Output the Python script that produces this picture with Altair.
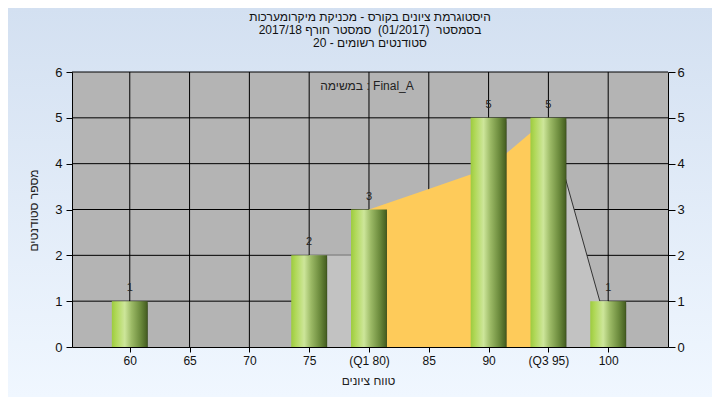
import altair as alt
import pandas as pd

# ---- data ----
categories = [60, 65, 70, 75, 80, 85, 90, 95, 100]
counts = [1, 0, 0, 2, 3, 0, 5, 5, 1]
tick_labels = ["60", "65", "70", "75", "(Q1 80)", "85", "90", "(Q3 95)", "100"]

iqr_x = [80, 85, 90, 95]
iqr_y = [3, 3.45, 3.9, 5]
low_x = [75, 80]
low_y = [2, 2]
high_x = [95, 99.3, 100]
high_y = [5, 1, 1]

y_ticks = [0, 1, 2, 3, 4, 5, 6]
title_lines = [
    "היסטוגרמת ציונים בקורס - מכניקת מיקרומערכות",
    "בסמסטר \u00a0(01/2017) \u00a0סמסטר חורף 2017/18",
    "סטודנטים רשומים - 20",
]
y_title = "מספר סטודנטים"
x_title = "טווח ציונים"
note = "במשימה : Final_A"

FONT = "Liberation Sans"
W, H = 596, 275
x_min, x_max = 55.17, 105.0

xs = alt.Scale(domain=[x_min, x_max], nice=False, zero=False, padding=0)
ys = alt.Scale(domain=[0, 6], nice=False, zero=True, padding=0)

label_expr = ""
for c, l in zip(categories, tick_labels):
    if l != str(c):
        label_expr += f"datum.value == {c} ? '{l}' : "
label_expr += "datum.label"

bars_df = pd.DataFrame({"score": categories, "count": counts})
bars_df = bars_df[bars_df["count"] > 0]
one = pd.DataFrame({"a": [0]})

bg_grad = alt.LinearGradient(
    gradient="linear",
    stops=[alt.GradientStop(offset=0, color="#d3e0f1"),
           alt.GradientStop(offset=1, color="#f0f7ff")],
    x1=0, x2=0, y1=0, y2=1)

bar_grad = alt.LinearGradient(
    gradient="linear",
    stops=[alt.GradientStop(offset=0, color="#9dcb3f"),
           alt.GradientStop(offset=0.12, color="#b0d858"),
           alt.GradientStop(offset=0.36, color="#cde69a"),
           alt.GradientStop(offset=0.55, color="#9cba66"),
           alt.GradientStop(offset=0.8, color="#6b8a3c"),
           alt.GradientStop(offset=0.96, color="#4a6424"),
           alt.GradientStop(offset=1, color="#3a4e1c")],
    x1=0, x2=1, y1=0, y2=0)

bg = alt.Chart(one).mark_rect(fill=bg_grad).encode(
    x=alt.value(-64), x2=alt.value(W + 44), y=alt.value(-64), y2=alt.value(H + 50))
plot_bg = alt.Chart(one).mark_rect(fill="#b4b4b4").encode(
    x=alt.value(0), x2=alt.value(W), y=alt.value(0), y2=alt.value(H))

vgrid = alt.Chart(pd.DataFrame({"score": categories})).mark_rule(color="black", strokeWidth=1).encode(
    x=alt.X("score:Q", scale=xs, axis=None), y=alt.value(0), y2=alt.value(H))
hgrid = alt.Chart(pd.DataFrame({"v": y_ticks[1:]})).mark_rule(color="black", strokeWidth=1).encode(
    y=alt.Y("v:Q", scale=ys, axis=None), x=alt.value(0), x2=alt.value(W))

def area(xv, yv, color):
    return alt.Chart(pd.DataFrame({"x": xv, "y": yv})).mark_area(color=color, opacity=1).encode(
        x=alt.X("x:Q", scale=xs, axis=None), y=alt.Y("y:Q", scale=ys, axis=None))

low_area = area(low_x, low_y, "#c2c2c2")
high_area = area(high_x, high_y, "#c2c2c2")
iqr_area = area(iqr_x, iqr_y, "#fecb5a")
slope_line = alt.Chart(pd.DataFrame({"x": high_x[:2], "y": high_y[:2]})).mark_line(
    color="#333333", strokeWidth=1).encode(
    x=alt.X("x:Q", scale=xs, axis=None), y=alt.Y("y:Q", scale=ys, axis=None))

base = alt.Chart(bars_df).transform_calculate(
    x1="datum.score - 1.5", x2="datum.score + 1.5")

shadow1 = base.mark_bar(color="black", opacity=0.16, xOffset=6, yOffset=4).encode(
    x=alt.X("x1:Q", scale=xs, axis=None), x2="x2:Q",
    y=alt.Y("count:Q", scale=ys, axis=None), y2=alt.datum(0))
shadow2 = base.mark_bar(color="black", opacity=0.25, xOffset=3, yOffset=2).encode(
    x=alt.X("x1:Q", scale=xs, axis=None), x2="x2:Q",
    y=alt.Y("count:Q", scale=ys, axis=None), y2=alt.datum(0))

x_axis = alt.Axis(values=categories, labelExpr=label_expr, grid=False,
                  domainColor="black", tickColor="black", tickSize=5,
                  labelColor="#111111", labelFontSize=12, labelFont=FONT, labelPadding=3,
                  title=x_title, titleFont=FONT, titleFontSize=12, titleFontWeight="normal",
                  titleColor="#222222", titleX=296, titleY=33, titleBaseline="middle",
                  titleAnchor="start", titleAlign="center", zindex=1, labelFlush=False)
y_axis_left = alt.Axis(values=y_ticks, grid=False, domainColor="black", tickColor="black",
                       tickSize=6, labelColor="#111111", labelFontSize=13, labelFont=FONT,
                       labelPadding=4, title=y_title, titleFont=FONT, titleFontSize=12,
                       titleFontWeight="normal", titleColor="#222222", titleAngle=-90,
                       titleX=-39, titleY=138, titleBaseline="middle", titleAlign="center",
                       zindex=1, labelFlush=False)
y_axis_right = alt.Axis(values=y_ticks, grid=False, orient="right", domainColor="black",
                        tickColor="black", tickSize=7, labelColor="#111111", labelFontSize=13,
                        labelFont=FONT, labelPadding=2, title=None, zindex=1, labelFlush=False)

bars = base.mark_bar(fill=bar_grad).encode(
    x=alt.X("x1:Q", scale=xs, axis=x_axis), x2="x2:Q",
    y=alt.Y("count:Q", scale=ys, axis=y_axis_left), y2=alt.datum(0))

right_axis = alt.Chart(bars_df).mark_point(opacity=0).encode(
    x=alt.X("score:Q", scale=xs, axis=None),
    y=alt.Y("count:Q", scale=ys, axis=y_axis_right))

labels = alt.Chart(bars_df).mark_text(font=FONT, fontSize=11, color="#222222",
                                      baseline="middle", dy=-13).encode(
    x=alt.X("score:Q", scale=xs, axis=None),
    y=alt.Y("count:Q", scale=ys, axis=None),
    text="count:Q")

note_text = alt.Chart(one).mark_text(font=FONT, fontSize=12, color="#222222",
                                     align="center", baseline="middle").encode(
    x=alt.value(295), y=alt.value(14), text=alt.value(note))

title_text = alt.Chart(one).mark_text(font=FONT, fontSize=12, color="#111111",
                                      align="center", baseline="top",
                                      lineBreak="\n", lineHeight=13).encode(
    x=alt.value(298), y=alt.value(-60), text=alt.value("\n".join(title_lines)))

chart = alt.layer(
    bg, plot_bg, vgrid, hgrid, low_area, high_area, iqr_area, slope_line,
    shadow1, shadow2, bars, right_axis, labels, note_text, title_text
).resolve_axis(y="independent", x="independent").properties(
    width=W, height=H,
    padding={"left": 64, "top": 64, "right": 44, "bottom": 50},
    autosize="none",
).configure_view(stroke=None).configure(background="#e6eff9")

chart.save("out.html", embed_options={"renderer": "svg", "actions": False})
